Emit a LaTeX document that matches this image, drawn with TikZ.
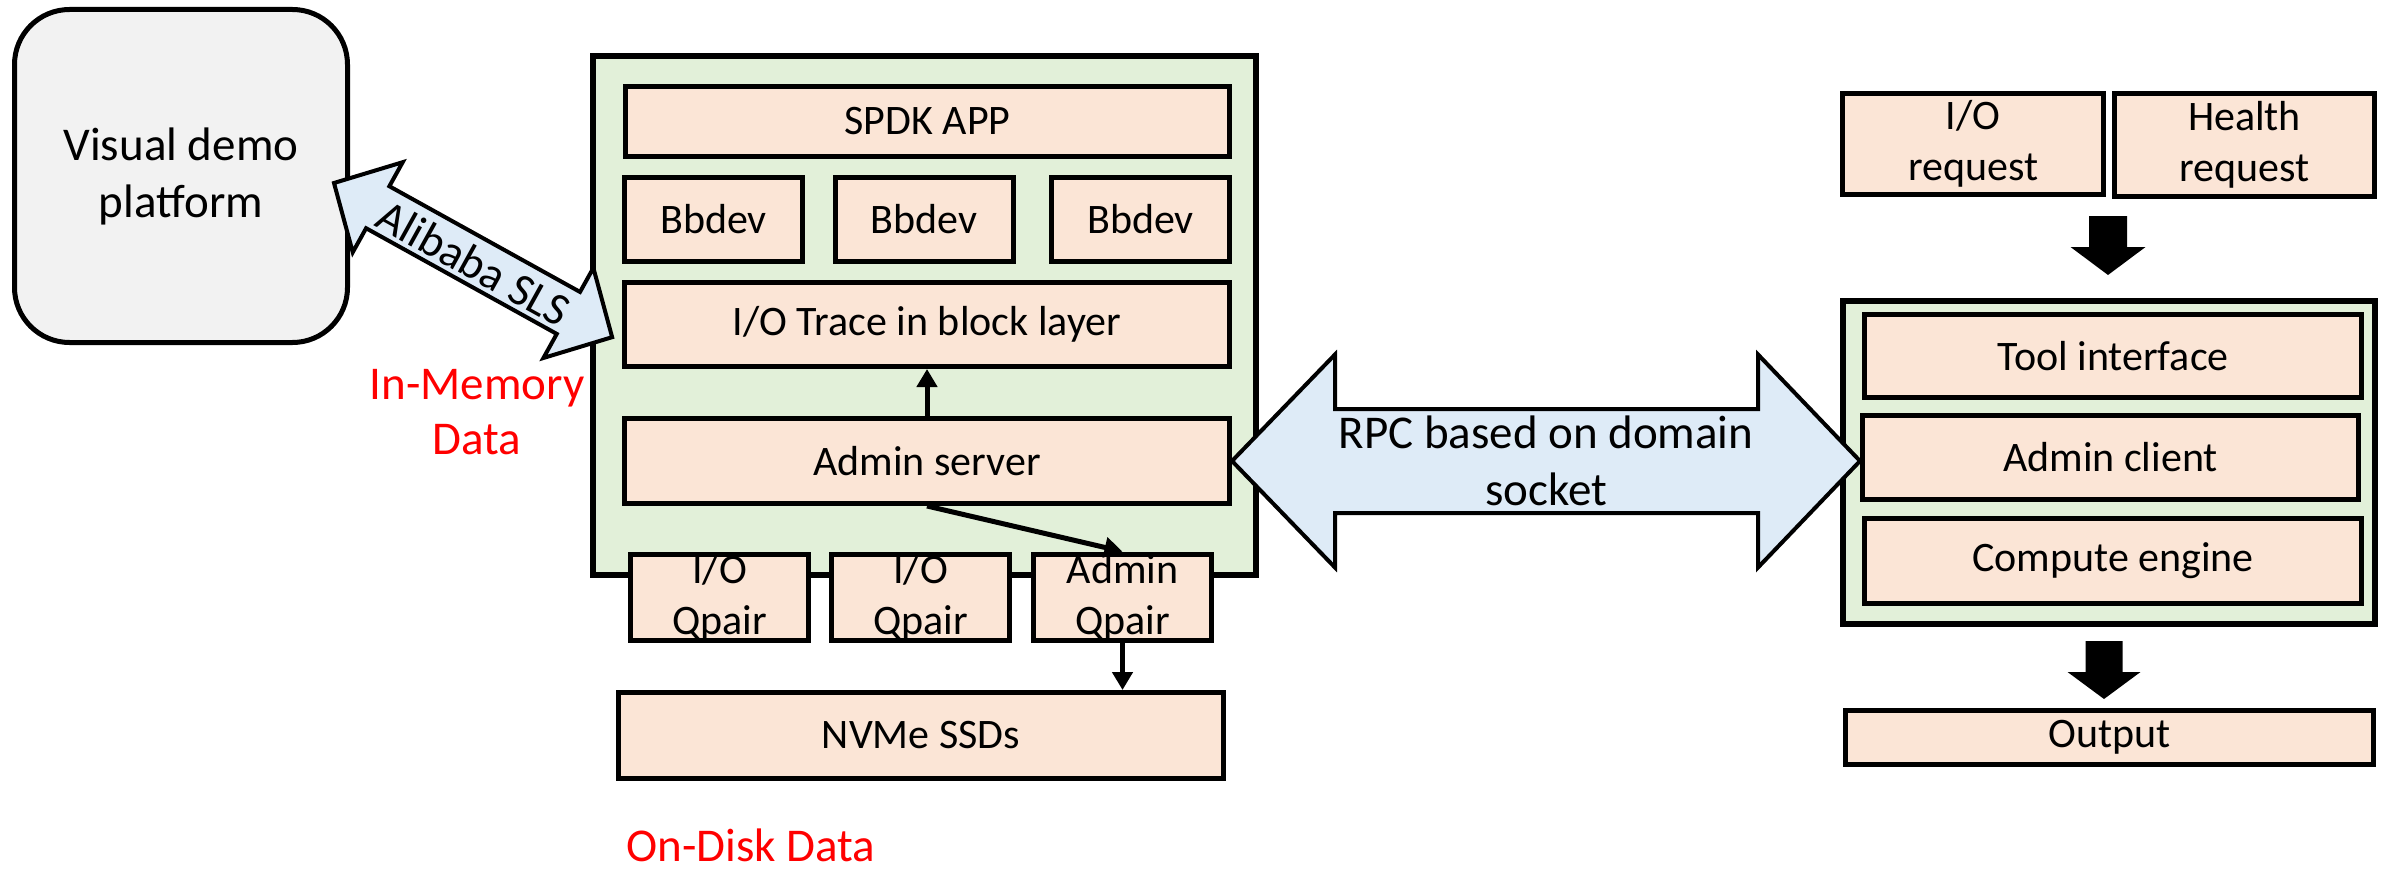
\documentclass[tikz,border=0pt]{standalone}
\usepackage{fontspec}
\setmainfont{Carlito}
\usetikzlibrary{calc,arrows.meta}
\definecolor{boxpink}{HTML}{FBE5D6}
\definecolor{boxgreen}{HTML}{E2F0D9}
\definecolor{arrowblue}{HTML}{DEEBF7}
\definecolor{platgrey}{HTML}{F2F2F2}
\tikzset{
  layer/.style={draw, line width=5pt, fill=boxpink, inner sep=0pt, align=center,
    font=\fontsize{42}{51}\selectfont},
  frame/.style={draw, line width=6pt, fill=boxgreen, inner sep=0pt},
  blockarrow/.style={draw, line width=4pt, fill=arrowblue, line join=miter},
  flow/.style={line width=5pt, -{Triangle[length=18pt,width=20pt]}},
  note/.style={text=red, align=center, inner sep=0pt, font=\fontsize{47}{55}\selectfont},
}
\begin{document}
\begin{tikzpicture}[x=1pt,y=-1pt]
\useasboundingbox (0,0) rectangle (2381,869);

% demo platform
\node[draw, line width=5pt, fill=platgrey, rounded corners=55pt, minimum width=333pt,
  minimum height=333pt, align=center, font=\fontsize{47}{57}\selectfont]
  (vis) at (181,176) {Visual demo\\platform};

% SPDK host stack
\node[frame, minimum width=663pt, minimum height=518pt] (host) at (924,315.5) {};
\node[layer, minimum width=604pt, minimum height=70pt] (spdk) at (927.5,121.5) {SPDK APP};
\node[layer, minimum width=178pt, minimum height=84pt] (bb1) at (713.5,219.5) {Bbdev};
\node[layer, minimum width=178pt, minimum height=84pt] (bb2) at (924,219.5) {Bbdev};
\node[layer, minimum width=178pt, minimum height=84pt] (bb3) at (1140.5,219.5) {Bbdev};
\node[layer, minimum width=605pt, minimum height=84pt] (trace) at (927,324.5) {I/O Trace in block layer};
\node[layer, minimum width=605pt, minimum height=85pt] (adminsrv) at (927,461) {Admin server};
\node[layer, minimum width=178pt, minimum height=86pt] (q1) at (719.5,597.5) {I/O\\Qpair};
\node[layer, minimum width=178pt, minimum height=86pt] (q2) at (920.5,597.5) {I/O\\Qpair};
\node[layer, minimum width=178pt, minimum height=86pt] (aq) at (1122.5,597.5) {Admin\\Qpair};
\node[layer, minimum width=605pt, minimum height=86pt] (nvme) at (921,735.5) {NVMe SSDs};

\draw[flow] (adminsrv.north) -- (trace.south);
\draw[flow] (adminsrv.south) -- (aq.north);
\draw[flow] (aq.south) -- (aq.south |- nvme.north);

% data labels
\node[note] (inmem) at (477,412) {In-Memory\\Data};
\node[note, anchor=base] (ondisk) at (751,861) {On-Disk Data};

% tool side
\node[layer, minimum width=261pt, minimum height=101pt] (ioreq) at (1973,144) {I/O\\request};
\node[layer, minimum width=260pt, minimum height=103pt] (health) at (2244.5,145) {Health\\request};
\node[frame, minimum width=532pt, minimum height=323pt] (tool) at (2108.5,462) {};
\node[layer, minimum width=497pt, minimum height=83pt] (iface) at (2113,356) {Tool interface};
\node[layer, minimum width=496pt, minimum height=84pt] (client) at (2110.5,457.5) {Admin client};
\node[layer, minimum width=497pt, minimum height=85pt] (engine) at (2113,561) {Compute engine};
\node[layer, minimum width=528pt, minimum height=54pt] (output) at (2109.5,737) {Output};

% thick flow arrows on the tool side
\coordinate (down1) at (2108,216);
\begin{scope}[shift={(down1)}]
  \fill (-19,0) -- (19,0) -- (19,31) -- (37.5,31) -- (0,59) -- (-37.5,31) -- (-19,31) -- cycle;
\end{scope}
\coordinate (down2) at (2104,641);
\begin{scope}[shift={(down2)}]
  \fill (-18.5,0) -- (18.5,0) -- (18.5,31) -- (36.5,31) -- (0,58) -- (-36.5,31) -- (-18.5,31) -- cycle;
\end{scope}

% SLS link
\coordinate (slsA) at (334,183);
\begin{scope}[shift={(slsA)}, rotate=-29]
  \draw[blockarrow] (0,0) -- (50,-51.5) -- (50,-24) -- (268,-24) -- (268,-51.5) -- (318,0)
    -- (268,51.5) -- (268,24) -- (50,24) -- (50,51.5) -- cycle;
  \node[rotate=-29, inner sep=0pt, font=\fontsize{46}{46}\selectfont] (sls) at (161,2) {Alibaba SLS};
\end{scope}

% RPC link
\coordinate (rpcL) at (adminsrv.east);
\coordinate (rpcR) at (adminsrv.east -| client.west);
\draw[blockarrow] (rpcL) -- ++(103,-106.5) -- ++(0,54.5) -- ($(rpcR)+(-102,-52)$)
  -- ++(0,-54.5) -- (rpcR) -- ++(-102,106.5) -- ++(0,-54.5) -- ($(rpcL)+(103,52)$)
  -- ++(0,54.5) -- cycle;
\node[align=center, font=\fontsize{47}{57}\selectfont] (rpc) at ($(rpcL)!0.5!(rpcR)$)
  {RPC based on domain\\socket};
\end{tikzpicture}
\end{document}
